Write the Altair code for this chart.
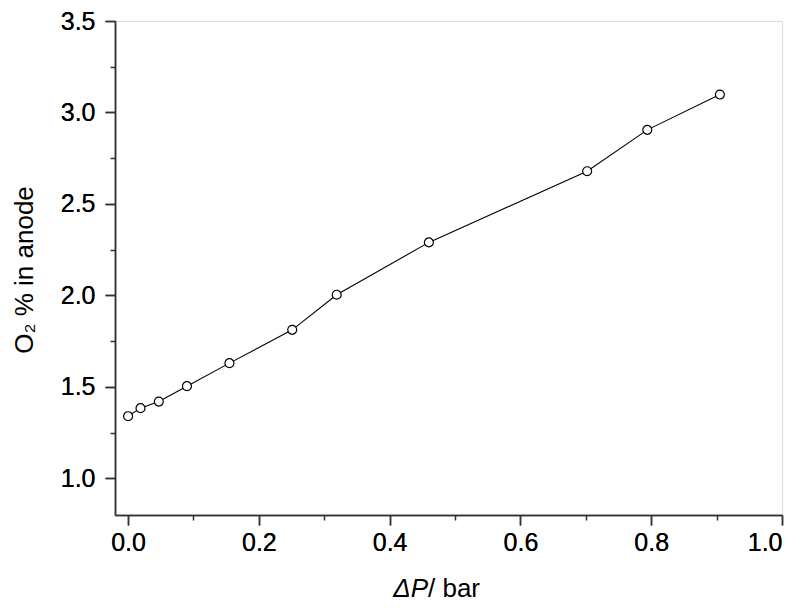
import altair as alt
import pandas as pd

# data
dp_bar = [0.0, 0.019, 0.047, 0.090, 0.155, 0.251, 0.319, 0.460, 0.702, 0.794, 0.905]
o2_pct = [1.34, 1.384, 1.42, 1.504, 1.630, 1.812, 2.004, 2.290, 2.679, 2.905, 3.098]

x_major = [0.0, 0.2, 0.4, 0.6, 0.8, 1.0]
x_minor = [0.1, 0.3, 0.5, 0.7, 0.9]
y_major = [1.0, 1.5, 2.0, 2.5, 3.0, 3.5]
y_minor = [1.25, 1.75, 2.25, 2.75, 3.25]

df = pd.DataFrame({"dp": dp_bar, "o2": o2_pct})

W, H = 667, 494
FONT = "Liberation Sans"
FS = 25
TFS = 26

xscale = alt.Scale(domain=[-0.02, 1.0], nice=False, zero=False)
yscale = alt.Scale(domain=[0.8, 3.5], nice=False, zero=False)

ax_major_x = alt.Axis(values=x_major, format=".1f", orient="bottom", tickSize=10, tickWidth=1.5,
                      tickColor="#333", domainColor="#333", domainWidth=1.5, labelFont=FONT,
                      labelFontSize=FS, labelColor="black", labelPadding=5, grid=False, title=None)
ax_major_y = alt.Axis(values=y_major, format=".1f", orient="left", tickSize=10, tickWidth=1.5,
                      tickColor="#333", domainColor="#333", domainWidth=1.5, labelFont=FONT,
                      labelFontSize=FS, labelColor="black", labelPadding=10, grid=False, title=None)

base = alt.Chart(df)

line = base.mark_line(color="black", strokeWidth=1.1).encode(
    x=alt.X("dp:Q", scale=xscale, axis=ax_major_x),
    y=alt.Y("o2:Q", scale=yscale, axis=ax_major_y),
)
pts = base.mark_point(shape="circle", size=80, filled=True, fill="white", stroke="black",
                      strokeWidth=1.2, opacity=1).encode(
    x=alt.X("dp:Q", scale=xscale, axis=ax_major_x),
    y=alt.Y("o2:Q", scale=yscale, axis=ax_major_y),
)

# minor ticks via a second (label-less) axis
minor = base.mark_point(opacity=0).encode(
    x=alt.X("dp:Q", scale=xscale,
            axis=alt.Axis(values=x_minor, orient="bottom", labels=False, tickSize=5, tickWidth=1.5,
                          tickColor="#333", domain=False, grid=False, title=None)),
    y=alt.Y("o2:Q", scale=yscale,
            axis=alt.Axis(values=y_minor, orient="left", labels=False, tickSize=5, tickWidth=1.5,
                          tickColor="#333", domain=False, grid=False, title=None)),
)

tdf = pd.DataFrame({"a": [0]})
xt1 = alt.Chart(tdf).mark_text(text="ΔP", font=FONT, fontSize=TFS, fontStyle="italic",
                               align="right", baseline="alphabetic", color="black").encode(
    x=alt.value(313), y=alt.value(576))
xt2 = alt.Chart(tdf).mark_text(text="/ bar", font=FONT, fontSize=TFS,
                               align="left", baseline="alphabetic", color="black").encode(
    x=alt.value(313), y=alt.value(576))
yt = alt.Chart(tdf).mark_text(text="O₂ % in anode", font=FONT, fontSize=TFS, angle=270,
                              align="center", baseline="middle", color="black").encode(
    x=alt.value(-90), y=alt.value(H / 2 + 2))

chart = alt.layer(minor, line, pts, xt1, xt2, yt).resolve_axis(
    x="independent", y="independent"
).properties(
    width=W, height=H,
    autosize=alt.AutoSizeParams(type="none"),
    padding={"left": 107, "top": 13, "right": 15, "bottom": 88},
).configure_view(stroke="#333", strokeWidth=1.5).configure(background="white")

chart.save("out.html", embed_options={"renderer": "svg", "actions": False})
